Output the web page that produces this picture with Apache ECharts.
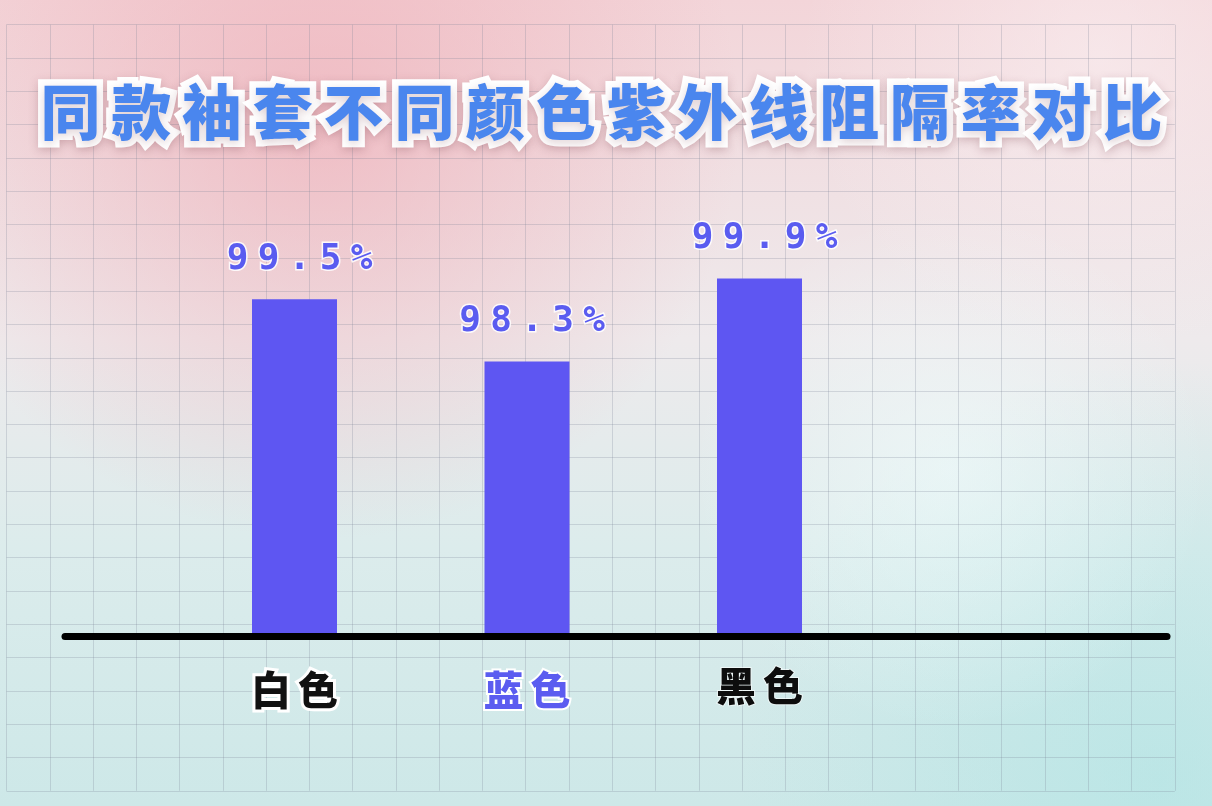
<!DOCTYPE html>
<html>
<head>
<meta charset="utf-8">
<script src="https://cdn.jsdelivr.net/npm/echarts@6/dist/echarts.min.js"></script>
<style>html,body{margin:0;padding:0;}#c{width:1212px;height:806px;}</style>
</head>
<body>
<div id="c"></div>
<script>
const titleText = '同款袖套不同颜色紫外线阻隔率对比';
const categories = ['白色', '蓝色', '黑色'];
const values = [99.5, 98.3, 99.9];

const chart = echarts.init(document.getElementById('c'));

function spread(str, key) {
  return Array.from(str).map(ch => '{' + key + '|' + ch + '}').join('');
}
const catStyleKeys = ['w', 'b', 'k'];
const gridLineColor = 'rgba(125,132,150,0.26)';

const option = {
  animation: false,
  backgroundColor: {
    type: 'linear', x: 0, y: 0, x2: 0, y2: 1,
    colorStops: [
      { offset: 0, color: '#f3d5d9' },
      { offset: 0.42, color: '#eeeaec' },
      { offset: 0.68, color: '#dcecec' },
      { offset: 1, color: '#cde8e8' }
    ]
  },
  graphic: [
    { type: 'circle', z: -10, shape: { cx: 320, cy: 120, r: 420 },
      style: { fill: { type: 'radial', x: 0.5, y: 0.5, r: 0.5,
        colorStops: [{ offset: 0, color: 'rgba(238,168,178,0.6)' }, { offset: 1, color: 'rgba(238,168,178,0)' }] } } },
    { type: 'circle', z: -10, shape: { cx: 1100, cy: 60, r: 300 },
      style: { fill: { type: 'radial', x: 0.5, y: 0.5, r: 0.5,
        colorStops: [{ offset: 0, color: 'rgba(250,240,242,0.6)' }, { offset: 1, color: 'rgba(250,240,242,0)' }] } } },
    { type: 'circle', z: -10, shape: { cx: 1160, cy: 780, r: 420 },
      style: { fill: { type: 'radial', x: 0.5, y: 0.5, r: 0.5,
        colorStops: [{ offset: 0, color: 'rgba(175,228,228,0.6)' }, { offset: 1, color: 'rgba(175,228,228,0)' }] } } },
    { type: 'circle', z: -10, shape: { cx: 950, cy: 470, r: 260 },
      style: { fill: { type: 'radial', x: 0.5, y: 0.5, r: 0.5,
        colorStops: [{ offset: 0, color: 'rgba(240,252,252,0.6)' }, { offset: 1, color: 'rgba(240,252,252,0)' }] } } }
  ],
  title: {
    text: spread(titleText, 't'),
    left: 30,
    top: 70,
    textStyle: {
      rich: {
        t: {
          width: 70.8, align: 'center', lineHeight: 74,
          fontSize: 60, fontWeight: 900, fontFamily: 'Noto Sans CJK SC',
          color: '#4a86ee', textBorderColor: '#ffffff', textBorderWidth: 13,
          textShadowColor: 'rgba(120,60,70,0.25)', textShadowBlur: 10, textShadowOffsetY: 3
        }
      }
    }
  },
  grid: [
    { left: 6.5, right: 37.2, top: 24.7, bottom: 15.2 },
    { left: 65, right: 45, top: 600, bottom: 170 },
    { left: 178.25, right: 336.25, top: 273.4, bottom: 170 }
  ],
  xAxis: [
    { gridIndex: 0, type: 'value', min: 0, max: 27, interval: 1, z: 0,
      axisLine: { show: false }, axisTick: { show: false }, axisLabel: { show: false },
      splitLine: { show: true, lineStyle: { color: gridLineColor, width: 1 } } },
    { gridIndex: 1, type: 'value', min: 0, max: 1, z: 5,
      axisLine: { show: true, onZero: false, lineStyle: { color: '#000000', width: 7 } },
      axisTick: { show: false }, axisLabel: { show: false }, splitLine: { show: false } },
    { gridIndex: 2, type: 'category', data: categories,
      axisLine: { show: false }, axisTick: { show: false }, splitLine: { show: false },
      axisLabel: {
        margin: 34,
        formatter: (v, i) => spread(v, catStyleKeys[i]),
        rich: {
          w: { width: 47, align: 'center', fontSize: 40, fontWeight: 900, fontFamily: 'Noto Sans CJK SC',
               color: '#111111', textBorderColor: '#ffffff', textBorderWidth: 6, lineHeight: 40 },
          b: { width: 47, align: 'center', fontSize: 40, fontWeight: 900, fontFamily: 'Noto Sans CJK SC',
               color: '#5b5cf0', textBorderColor: '#ffffff', textBorderWidth: 4, lineHeight: 40 },
          k: { width: 47, align: 'center', fontSize: 40, fontWeight: 900, fontFamily: 'Noto Sans CJK SC',
               color: '#0d0d0d', textBorderColor: 'rgba(255,255,255,0.6)', textBorderWidth: 2, lineHeight: 32 }
        }
      } }
  ],
  yAxis: [
    { gridIndex: 0, type: 'value', min: 0, max: 23, interval: 1, z: 0,
      axisLine: { show: false }, axisTick: { show: false }, axisLabel: { show: false },
      splitLine: { show: true, lineStyle: { color: gridLineColor, width: 1 } } },
    { gridIndex: 1, type: 'value', show: false },
    { gridIndex: 2, type: 'value', min: 93, max: 100, show: false }
  ],
  series: [
    {
      type: 'bar',
      xAxisIndex: 2, yAxisIndex: 2,
      data: values,
      barWidth: 85,
      itemStyle: { color: '#5e56f2' },
      label: {
        show: true,
        position: 'top',
        distance: 22,
        offset: [5, 0],
        formatter: p => spread(p.value + '%', 'd'),
        rich: {
          d: { width: 31, align: 'center', fontSize: 36, lineHeight: 36, fontWeight: 'bold',
               fontFamily: 'DejaVu Sans Mono', color: '#5a5cf0',
               textBorderColor: 'rgba(255,255,255,0.85)', textBorderWidth: 3 }
        }
      }
    }
  ]
};
chart.setOption(option);
</script>
</body>
</html>
